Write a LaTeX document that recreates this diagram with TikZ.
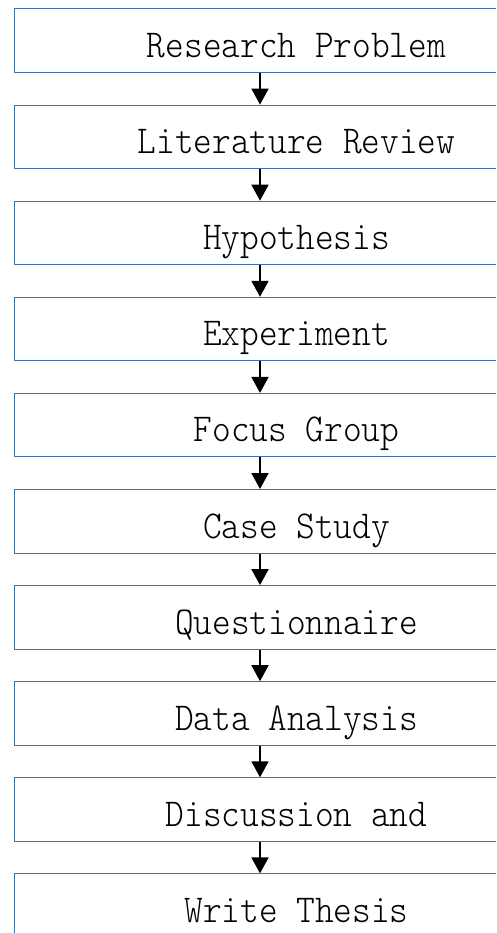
\documentclass[tikz,border=0pt]{standalone}
\usepackage{fontspec}
\usetikzlibrary{arrows.meta}
\newfontfamily\stepfont{Latin Modern Mono Light}
\definecolor{boxline}{RGB}{68,114,160}
\begin{document}
\begin{tikzpicture}[x=1pt,y=-1pt,
  stepbox/.style={draw=boxline, line width=1pt, rectangle, anchor=north west,
    minimum width=564pt, inner xsep=0pt, inner ysep=0pt,
    text height=48.5pt, text depth=15pt,
    font=\fontsize{35.6}{40}\selectfont\stepfont},
  flow/.style={line width=1.8pt, -{Triangle[length=16pt,width=17pt]}}]
  \useasboundingbox (0,0) rectangle (496,933);
  \fill[white] (0,0) rectangle (496,933);
  \newcommand{\tall}[1]{\scalebox{1}[1.11]{#1}}
  \coordinate (ax) at (260,0);
  \begin{scope}
    \clip (0,0) rectangle (496,933);
    \node[stepbox] (b1)  at (14,8.5)   {\tall{Research Problem}};
    \node[stepbox] (b2)  at (14,104.6) {\tall{Literature Review}};
    \node[stepbox] (b3)  at (14,200.7) {\tall{Hypothesis}};
    \node[stepbox] (b4)  at (14,296.8) {\tall{Experiment}};
    \node[stepbox] (b5)  at (14,392.9) {\tall{Focus Group}};
    \node[stepbox] (b6)  at (14,489.0) {\tall{Case Study}};
    \node[stepbox] (b7)  at (14,585.1) {\tall{Questionnaire}};
    \node[stepbox] (b8)  at (14,681.2) {\tall{Data Analysis}};
    \node[stepbox] (b9)  at (14,777.3) {\tall{Discussion and}};
    \node[stepbox] (b10) at (14,873.4) {\tall{Write Thesis}};
  \end{scope}
  \foreach \a/\b in {b1/b2,b2/b3,b3/b4,b4/b5,b5/b6,b6/b7,b7/b8,b8/b9,b9/b10}
    \draw[flow] (\a.south -| ax) -- (\b.north -| ax);
\end{tikzpicture}
\end{document}
